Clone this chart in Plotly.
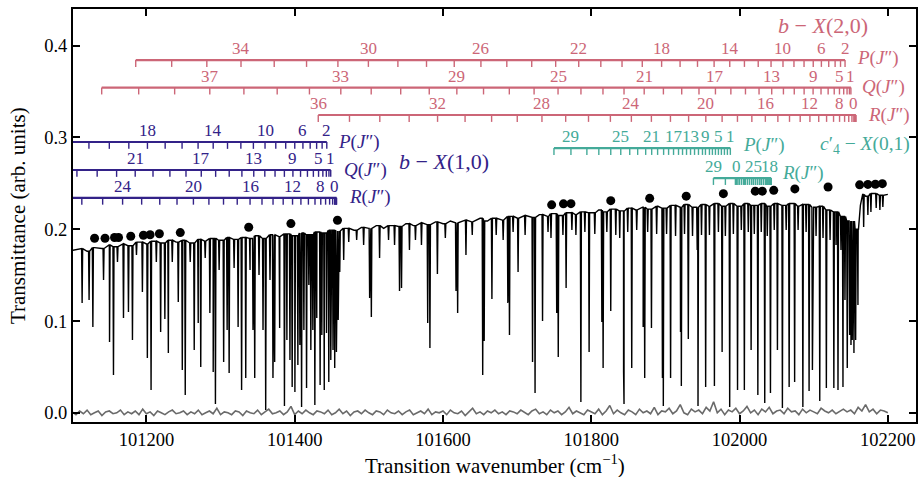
import numpy as np
import plotly.graph_objects as go

FONT = "Liberation Serif"
RED = "#CC6677"
BLUE = "#332288"
TEAL = "#44AA99"

# ---------------- spectrum: baseline anchors (cm^-1, transmittance) ----------------
base_nu = [101100, 101110, 101120, 101130, 101140, 101150, 101160, 101170, 101180, 101190,
           101200, 101210, 101220, 101230, 101240, 101250, 101260, 101270, 101280, 101290,
           101300, 101310, 101320, 101330, 101340, 101350, 101360, 101370, 101380, 101390,
           101400, 101410, 101420, 101430, 101440, 101450, 101460, 101470, 101480, 101490,
           101500, 101510, 101520, 101530, 101540, 101550, 101560, 101570, 101580, 101590,
           101600, 101610, 101620, 101630, 101640, 101650, 101660, 101670, 101680, 101690,
           101700, 101710, 101720, 101730, 101740, 101750, 101760, 101770, 101780, 101790,
           101800, 101810, 101820, 101830, 101840, 101850, 101860, 101870, 101880, 101890,
           101900, 101910, 101920, 101930, 101940, 101950, 101960, 101970, 101980, 101990,
           102000, 102010, 102020, 102030, 102040, 102050, 102060, 102070, 102080, 102090,
           102100, 102110, 102120, 102130, 102140, 102150, 102160, 102163, 102166, 102170,
           102180, 102190, 102200]
base_T = [0.177, 0.179, 0.176, 0.180, 0.179, 0.183, 0.181, 0.184, 0.182, 0.186,
          0.184, 0.187, 0.185, 0.188, 0.186, 0.188, 0.185, 0.189, 0.187, 0.190,
          0.188, 0.191, 0.189, 0.191, 0.190, 0.193, 0.190, 0.194, 0.192, 0.195,
          0.193, 0.196, 0.194, 0.197, 0.196, 0.199, 0.198, 0.201, 0.199, 0.202,
          0.201, 0.204, 0.201, 0.204, 0.203, 0.206, 0.204, 0.207, 0.205, 0.208,
          0.206, 0.209, 0.207, 0.210, 0.208, 0.212, 0.209, 0.212, 0.210, 0.214,
          0.212, 0.215, 0.213, 0.216, 0.214, 0.217, 0.215, 0.218, 0.216, 0.219,
          0.218, 0.221, 0.219, 0.222, 0.220, 0.223, 0.221, 0.224, 0.222, 0.225,
          0.223, 0.226, 0.224, 0.227, 0.224, 0.227, 0.225, 0.228, 0.225, 0.228,
          0.225, 0.228, 0.226, 0.228, 0.225, 0.228, 0.226, 0.228, 0.225, 0.227,
          0.224, 0.225, 0.221, 0.219, 0.214, 0.209, 0.200, 0.226, 0.238, 0.236,
          0.239, 0.237, 0.238]

# absorption line centres and minimum transmittance
dip_nu = [101113.3, 101122.7, 101127.8, 101142.2, 101150.3, 101155.6, 101161.0, 101169.1, 101175.8, 101181.2,
          101186.6, 101194.6, 101201.3, 101206.3, 101213.4, 101219.2, 101224.9, 101229.6, 101234.9, 101243.0,
          101248.4, 101252.4, 101259.1, 101264.5, 101269.9, 101273.3, 101279.3, 101285.6, 101290.1, 101293.1,
          101298.1, 101304.2, 101308.9, 101311.6, 101318.3, 101323.7, 101328.4, 101334.0, 101339.8, 101343.8,
          101346.1, 101351.9, 101357.3, 101360.9, 101366.7, 101370.7, 101373.0, 101379.7, 101386.2,
          101389.5, 101393.6, 101396.6, 101400.3, 101404.3, 101407.0, 101409.3, 101412.4, 101416.0, 101419.1,
          101421.8, 101424.5, 101427.2, 101429.8, 101434.3, 101436.6, 101439.9, 101442.9, 101446.0, 101448.7,
          101451.7, 101454.0, 101456.3, 101458.7, 101460.8, 101466.1, 101472.9,
          101483.6, 101493.0, 101501.1, 101503.4, 101514.5, 101526.6, 101534.7, 101541.4, 101544.1, 101554.8,
          101562.9, 101571.0, 101579.4, 101582.4, 101592.5, 101603.2, 101617.6, 101619.8, 101631.0, 101639.5,
          101653.6, 101655.6, 101666.0, 101671.8,
          101681.2, 101687.5, 101689.7, 101694.6, 101701.3, 101710.8, 101720.8, 101724.2, 101734.3, 101741.7,
          101745.7, 101753.4, 101755.5, 101761.8, 101766.1, 101773.9, 101779.3, 101786.0, 101791.4, 101797.1,
          101804.8, 101814.3, 101816.0, 101821.0, 101826.3, 101833.1, 101838.4, 101843.6, 101844.2, 101849.2,
          101854.6, 101861.3, 101870.0, 101872.1, 101876.1, 101881.2, 101888.2, 101896.0, 101897.2, 101901.6,
          101907.0, 101913.7, 101920.4, 101921.5, 101925.8, 101930.9, 101936.6, 101942.9, 101944.0, 101948.7,
          101954.3,
          101959.4, 101966.1, 101971.5, 101976.5, 101980.9, 101986.7, 101991.7, 101997.3, 102002.4, 102006.5,
          102011.8, 102015.6, 102019.9, 102024.7, 102029.3, 102034.0, 102037.4, 102041.7, 102046.8, 102051.1,
          102057.8, 102062.9, 102066.9, 102074.3, 102079.0, 102085.4, 102089.8, 102093.8, 102098.3, 102103.2,
          102108.2, 102112.6, 102117.1, 102122.1, 102127.2, 102130.1, 102132.8, 102136.8, 102139.5, 102142.2,
          102145.3, 102148.5, 102150.3, 102152.0, 102154.3, 102156.6, 102159.7, 102167.4, 102173.1, 102177.2,
          102184.3, 102189.3, 102193.3]
dip_T = [0.1196, 0.1229, 0.0935, 0.1447, 0.0771, 0.0412, 0.1643, 0.1033, 0.1098, 0.0793,
         0.1719, 0.1316, 0.0597, 0.0248, 0.1643, 0.0880, 0.1022, 0.0652, 0.1643, 0.1207,
         0.0466, 0.0194, 0.1643, 0.0684, 0.0978, 0.0499, 0.1687, 0.1087, 0.0445, 0.0096,
         0.1556, 0.0554, 0.0902, 0.0434, 0.1578, 0.0935, 0.0248, 0.0379, 0.1556, 0.0902,
         0.0379, 0.1502, 0.0902, 0.0031, 0.1447, 0.0379, 0.0554, 0.0924, 0.0074,
         0.0793, 0.0575, 0.0281, 0.0227, 0.0521, 0.0739, 0.0063, 0.0902, 0.0270, 0.1393,
         0.0684, 0.0902, 0.0085, 0.1033, 0.0303, 0.0848, 0.0248, 0.0869, 0.0336, 0.0575,
         0.0684, 0.0488, 0.0662, 0.1011, 0.1534, 0.1665, 0.1861,
         0.1883, 0.1829, 0.1251, 0.1044, 0.1687, 0.1883, 0.1829, 0.1327, 0.1360, 0.1774,
         0.1883, 0.1829, 0.0978, 0.0706, 0.1512, 0.1905, 0.1327, 0.1087, 0.1719, 0.1937,
         0.0412, 0.0782, 0.1240, 0.1937,
         0.1883, 0.1196, 0.0848, 0.1970, 0.1534, 0.1937, 0.0554, 0.0216, 0.1000, 0.1970,
         0.1905, 0.1087, 0.0608, 0.1937, 0.1360, 0.1992, 0.1937, 0.0118, 0.1970, 0.0663,
         0.1948, 0.0989, 0.0488, 0.1970, 0.1109, 0.1937, 0.1905, 0.0445, 0.0096, 0.1970,
         0.0488, 0.1992, 0.0935, 0.0379, 0.1970, 0.0924, 0.1948, 0.0379, 0.0074, 0.1948,
         0.0379, 0.1926, 0.0880, 0.0292, 0.1948, 0.0804, 0.1926, 0.1774, 0.0074, 0.1937,
         0.0281,
         0.1937, 0.0292, 0.1970, 0.0663, 0.1926, 0.0063, 0.1948, 0.0248, 0.1992, 0.0248,
         0.1970, 0.0684, 0.1948, 0.0194, 0.1970, 0.0107, 0.1926, 0.0216, 0.1992, 0.0684,
         0.0052, 0.1992, 0.0281, 0.0336, 0.1992, 0.0063, 0.1970, 0.0237, 0.0466, 0.1926,
         0.0129, 0.1905, 0.0270, 0.1883, 0.0270, 0.1829, 0.0248, 0.1774, 0.0281, 0.1229,
         0.0488, 0.0848, 0.0739, 0.0793, 0.0652, 0.0793, 0.1175, 0.2024, 0.2155, 0.2188,
         0.2231, 0.2210, 0.2242]

# local transmittance maxima (black dots)
dot_nu = [101130.1, 101144.2, 101157.0, 101162.4, 101178.9, 101196.0, 101205.0, 101217.5, 101245.7,
          101338.0, 101394.9, 101457.7, 101746.6, 101762.5, 101772.6, 101826.3, 101878.8, 101928.1,
          101978.2, 102021.2, 102030.7, 102046.1, 102074.6, 102119.4, 102162.0, 102173.1, 102183.2, 102192.6]
dot_T = [0.1902, 0.1902, 0.1910, 0.1910, 0.1924, 0.1935, 0.1940, 0.1951, 0.1964,
         0.2022, 0.2062, 0.2098, 0.2266, 0.2277, 0.2279, 0.2312, 0.2337, 0.2361,
         0.2388, 0.2415, 0.2415, 0.2424, 0.2440, 0.2460, 0.2484, 0.2489, 0.2491, 0.2497]

# background (zero-level) trace, sampled every 5 cm^-1 from 101100
noise_start = 101100
noise_step = 5
noise_T = [0.001, -0.002, 0.002, -0.001, 0.003, -0.002, 0.000, 0.002, -0.003, 0.001,
           0.002, -0.001, 0.000, 0.003, -0.002, 0.001, -0.001, 0.002, -0.002, 0.004,
           -0.001, 0.001, -0.003, 0.002, 0.000, -0.002, 0.001, 0.003, -0.001, 0.000,
           0.002, -0.002, 0.001, -0.001, 0.003, -0.002, 0.000, 0.002, -0.001, 0.005,
           -0.002, 0.001, 0.000, -0.002, 0.002, 0.001, -0.003, 0.002, 0.000, -0.001,
           0.003, -0.002, 0.001, 0.004, -0.001, 0.000, 0.002, -0.002, 0.001, 0.007,
           -0.002, 0.002, -0.001, 0.003, 0.000, -0.002, 0.002, 0.001, -0.001, 0.003,
           -0.002, 0.000, 0.004, -0.001, 0.002, -0.003, 0.001, 0.002, -0.001, 0.003,
           0.000, -0.002, 0.002, 0.001, -0.002, 0.003, 0.000, -0.001, 0.002, -0.002,
           0.001, 0.003, -0.002, 0.000, 0.002, -0.001, 0.004, -0.002, 0.001, 0.000,
           0.002, -0.002, 0.003, 0.000, -0.001, 0.002, -0.003, 0.001, 0.005, -0.001,
           0.001, -0.002, 0.002, 0.000, 0.003, -0.001, 0.001, -0.002, 0.002, 0.001,
           -0.001, 0.003, 0.000, -0.002, 0.002, 0.004, -0.001, 0.001, -0.002, 0.003,
           0.000, 0.002, -0.002, 0.001, 0.006, -0.001, 0.002, 0.000, -0.002, 0.003,
           0.001, -0.001, 0.004, -0.002, 0.002, 0.008, -0.001, 0.003, 0.000, -0.002,
           0.003, 0.001, -0.002, 0.004, 0.000, 0.002, -0.001, 0.006, -0.002, 0.002,
           0.001, 0.005, -0.001, 0.002, 0.009, 0.000, -0.002, 0.004, 0.001, 0.003,
           -0.001, 0.006, 0.002, 0.012, 0.000, 0.004, -0.002, 0.003, 0.001, 0.005,
           -0.001, 0.002, 0.007, 0.000, 0.003, -0.002, 0.004, 0.001, 0.006, -0.001,
           0.002, 0.003, -0.001, 0.005, 0.001, 0.002, -0.002, 0.004, 0.000, 0.003,
           0.001, -0.001, 0.005, 0.002, 0.000, 0.003, -0.001, 0.002, 0.004, 0.001,
           0.003, -0.001, 0.006, 0.002, 0.009, 0.001, 0.004, -0.001, 0.003, 0.002,
           0.000]

# ---------------- line-position ladders ----------------
# b-X(2,0)
redP_J0 = 2
redP_nu = [102142.3, 102136.2, 102128.9, 102120.3, 102110.4, 102099.4, 102087.0, 102073.4, 102058.6, 102042.5,
           102025.2, 102006.6, 101986.8, 101965.7, 101943.3, 101919.8, 101894.9, 101868.8, 101841.5, 101812.9,
           101783.1, 101752.0, 101719.7, 101686.1, 101651.2, 101615.2, 101577.8, 101539.2, 101499.4, 101458.3,
           101416.0, 101372.4, 101327.6, 101281.5, 101234.1, 101185.6]
redP_labels = [2, 6, 10, 14, 18, 22, 26, 30, 34]
redQ_J0 = 1
redQ_nu = [102150.2, 102148.2, 102145.0, 102140.5, 102134.8, 102127.7, 102119.5, 102109.9, 102099.2, 102087.1,
           102073.8, 102059.2, 102043.4, 102026.3, 102008.0, 101988.3, 101967.5, 101945.3, 101922.0, 101897.3,
           101871.4, 101844.2, 101815.8, 101786.1, 101755.2, 101722.9, 101689.5, 101654.7, 101618.7, 101581.5,
           101543.0, 101503.2, 101462.2, 101419.9, 101376.4, 101331.5, 101285.5, 101238.1, 101189.6, 101139.7]
redQ_labels = [1, 5, 9, 13, 17, 21, 25, 29, 33, 37]
redR_J0 = 0
redR_nu = [102154.3, 102156.3, 102157.0, 102156.5, 102154.7, 102151.6, 102147.3, 102141.7, 102134.9, 102126.8,
           102117.4, 102106.8, 102094.9, 102081.8, 102067.4, 102051.7, 102034.8, 102016.6, 101997.2, 101976.5,
           101954.5, 101931.3, 101906.8, 101881.1, 101854.1, 101825.8, 101796.3, 101765.5, 101733.5, 101700.2,
           101665.6, 101629.8, 101592.7, 101554.4, 101514.8, 101473.9, 101431.8]
redR_labels = [0, 8, 12, 16, 20, 24, 28, 32, 36]

# b-X(1,0)
blueP_J0 = 2
blueP_nu = [101443.3, 101437.0, 101429.6, 101420.9, 101411.1, 101400.1, 101387.9, 101374.5, 101360.0, 101344.3,
            101327.4, 101309.4, 101290.1, 101269.7, 101248.1, 101225.3, 101201.4, 101176.3, 101150.0, 101122.5,
            101093.9, 101064.1]
blueP_labels = [2, 6, 10, 14, 18]
blueQ_J0 = 1
blueQ_nu = [101448.6, 101446.2, 101442.7, 101438.0, 101432.2, 101425.2, 101417.2, 101407.9, 101397.6, 101386.1,
            101373.5, 101359.7, 101344.8, 101328.8, 101311.7, 101293.4, 101274.0, 101253.4, 101231.7, 101208.9,
            101184.9, 101159.8, 101133.6, 101106.3, 101077.8, 101048.1]
blueQ_labels = [1, 5, 9, 13, 17, 21]
blueR_J0 = 0
blueR_nu = [101454.0, 101455.8, 101456.5, 101455.9, 101454.2, 101451.2, 101447.1, 101441.7, 101435.2, 101427.4,
            101418.5, 101408.4, 101397.1, 101384.5, 101370.8, 101355.9, 101339.8, 101322.5, 101304.0, 101284.3,
            101263.4, 101241.3, 101218.0, 101193.6, 101167.9, 101141.0, 101112.9, 101083.7, 101053.2]
blueR_labels = [0, 8, 12, 16, 20, 24]

# c'4-X(0,1)
tealP_J0 = 1
tealP_nu = [101987.6, 101983.6, 101979.6, 101975.5, 101971.5, 101967.5, 101963.4, 101959.4, 101954.0, 101950.0,
            101944.6, 101939.3, 101933.9, 101928.5, 101923.1, 101917.7, 101911.0, 101904.3, 101897.6, 101889.5,
            101881.5, 101873.4, 101862.6, 101851.9, 101839.8, 101826.3, 101810.2, 101794.1, 101772.6, 101749.7]
tealP_labels = [1, 5, 9, 13, 17, 21, 25, 29]
tealR_J0 = 0
tealR_nu = [101995.7, 101997.7, 101999.7, 102002.4, 102005.1, 102007.8, 102010.5, 102013.2, 102015.9, 102018.6,
            102021.2, 102023.9, 102026.6, 102029.3, 102032.0, 102034.7, 102036.7, 102038.7, 102040.1, 102041.4,
            102042.7, 102042.7, 102041.4, 102037.4, 102029.3, 102018.6, 102006.5, 101994.4, 101980.9, 101964.8]
tealR_labels = [29, 0, 25, 18]

# ladder baselines (transmittance units)
ladders = [
    (redP_nu, redP_J0, redP_labels, 0.3844, RED),
    (redQ_nu, redQ_J0, redQ_labels, 0.3544, RED),
    (redR_nu, redR_J0, redR_labels, 0.3245, RED),
    (blueP_nu, blueP_J0, blueP_labels, 0.2951, BLUE),
    (blueQ_nu, blueQ_J0, blueQ_labels, 0.2646, BLUE),
    (blueR_nu, blueR_J0, blueR_labels, 0.2343, BLUE),
    (tealP_nu, tealP_J0, tealP_labels, 0.2885, TEAL),
    (tealR_nu, tealR_J0, tealR_labels, 0.2558, TEAL),
]
TICK = 0.0075
LAB_DY = 0.0125

fig = go.Figure()

# zero-level trace
noise_nu = [noise_start + noise_step * i for i in range(len(noise_T))]
fig.add_trace(go.Scatter(x=noise_nu, y=noise_T, mode="lines",
                         line=dict(color="#6a6a6a", width=1.6), hoverinfo="skip"))

# spectrum polyline: baseline anchors plus V-shaped absorption lines
bn = np.array(base_nu, dtype=float)
bt = np.array(base_T, dtype=float)
pts = list(zip(base_nu, base_T))
HW = 0.7
for n, t in zip(dip_nu, dip_T):
    top = bt[np.abs(bn - n).argmin()]
    pts += [(n - HW, top), (n, t), (n + HW, top)]
pts.sort(key=lambda p: p[0])
fig.add_trace(go.Scatter(x=[p[0] for p in pts], y=[p[1] for p in pts], mode="lines",
                         line=dict(color="black", width=1.4), hoverinfo="skip"))

# dots
fig.add_trace(go.Scatter(x=dot_nu, y=dot_T, mode="markers",
                         marker=dict(color="black", size=9, line=dict(width=0)), hoverinfo="skip"))

annotations = []
for nus, j0, labs, y0, col in ladders:
    fig.add_trace(go.Scatter(x=[min(nus), max(nus)], y=[y0, y0], mode="lines",
                             line=dict(color=col, width=2.2), hoverinfo="skip"))
    xs, ys = [], []
    for n in nus:
        xs += [n, n, None]
        ys += [y0, y0 - TICK, None]
    fig.add_trace(go.Scatter(x=xs, y=ys, mode="lines",
                             line=dict(color=col, width=1.4), hoverinfo="skip"))
    for J in labs:
        annotations.append(dict(x=nus[J - j0], y=y0 + LAB_DY, xref="x", yref="y", text=str(J),
                                showarrow=False, xanchor="center", yanchor="middle",
                                font=dict(family=FONT, size=17, color=col)))

def branch(text, x, y, col, size=19):
    annotations.append(dict(x=x, y=y, xref="x", yref="y", text=text, showarrow=False,
                            xanchor="left", yanchor="middle",
                            font=dict(family=FONT, size=size, color=col)))

PJ = "<i>P</i>(<i>J</i>″)"
QJ = "<i>Q</i>(<i>J</i>″)"
RJ = "<i>R</i>(<i>J</i>″)"
branch(PJ, 102155.7, 0.3862, RED)
branch(QJ, 102162.4, 0.3548, RED)
branch(RJ, 102170.5, 0.3250, RED)
branch(PJ, 101455.4, 0.2951, BLUE)
branch(QJ, 101463.4, 0.2646, BLUE)
branch(RJ, 101470.2, 0.2350, BLUE)
branch(PJ, 102002.4, 0.2915, TEAL)
branch(RJ, 102054.8, 0.2610, TEAL)
branch("<i>b</i> − <i>X</i>(2,0)", 102049.0, 0.4215, RED, 22)
branch("<i>b</i> − <i>X</i>(1,0)", 101538.0, 0.2733, BLUE, 22)
branch("<i>c</i>′<sub>4</sub> − <i>X</i>(0,1)", 102106.0, 0.2915, TEAL, 19.5)

# axis titles
annotations.append(dict(x=0.5, y=-0.104, xref="paper", yref="paper",
                        text="Transition wavenumber (cm<sup>−1</sup>)", showarrow=False,
                        xanchor="center", yanchor="middle",
                        font=dict(family=FONT, size=21, color="black")))
annotations.append(dict(x=-0.0657, y=0.5, xref="paper", yref="paper",
                        text="Transmittance (arb. units)", showarrow=False, textangle=-90,
                        xanchor="center", yanchor="middle",
                        font=dict(family=FONT, size=21, color="black")))

axis_common = dict(showgrid=False, zeroline=False, showline=True, linecolor="black", linewidth=2,
                   mirror="ticks", ticks="inside", ticklen=7, tickwidth=1.5, tickcolor="black",
                   tickfont=dict(family=FONT, size=18.5, color="black"))

fig.update_layout(
    width=920, height=477,
    margin=dict(l=73, r=2, t=9, b=55),
    paper_bgcolor="white", plot_bgcolor="white",
    showlegend=False,
    annotations=annotations,
    xaxis=dict(range=[101101, 102238],
               tickvals=[101200, 101400, 101600, 101800, 102000, 102200],
               ticktext=["101200", "101400", "101600", "101800", "102000", "102200"],
               **axis_common),
    yaxis=dict(range=[-0.01, 0.44],
               tickvals=[0.0, 0.1, 0.2, 0.3, 0.4],
               ticktext=["0.0", "0.1", "0.2", "0.3", "0.4"],
               **axis_common),
)

fig.write_html("out.html", config={"displayModeBar": False})
